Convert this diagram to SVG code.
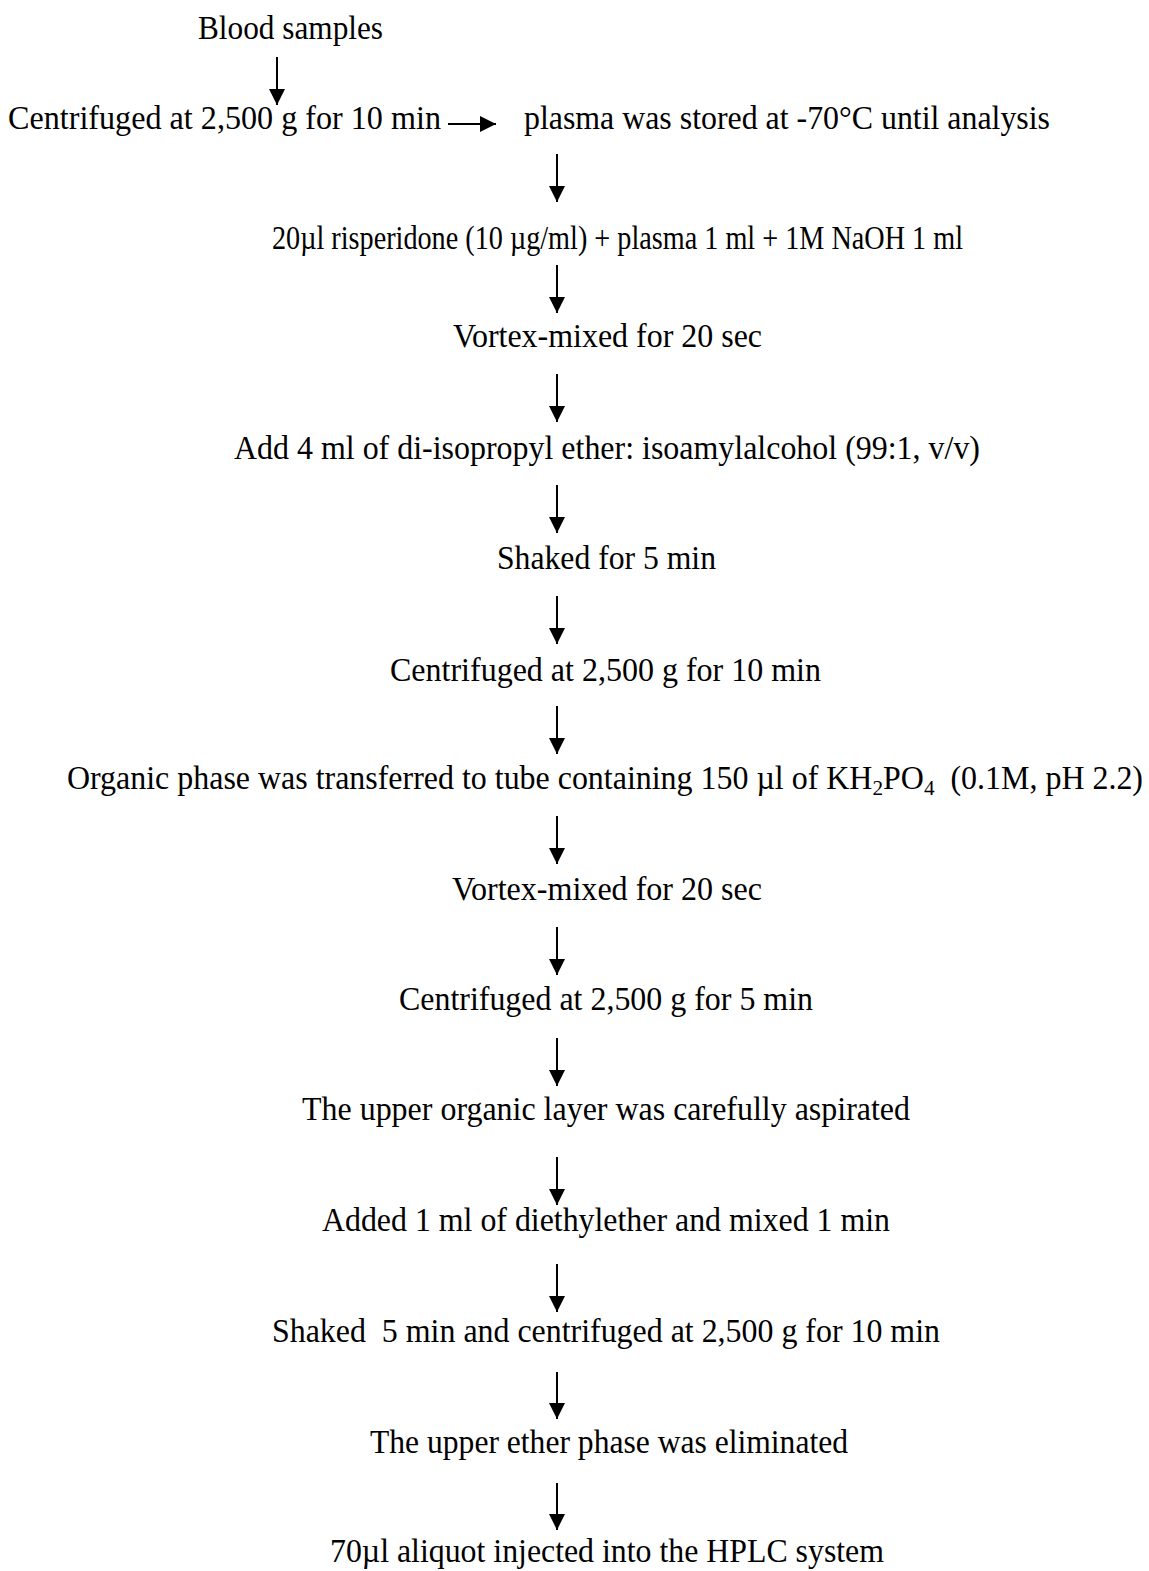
<svg xmlns="http://www.w3.org/2000/svg" width="1149" height="1571" viewBox="0 0 1149 1571">
<defs>
<marker id="ah" markerUnits="userSpaceOnUse" markerWidth="16" markerHeight="16" viewBox="0 0 16 16" refX="16" refY="8" orient="auto">
<path d="M0,0 L16,8 L0,16 z" fill="#000"/>
</marker>
<style>
text{font-family:"Liberation Serif","Times New Roman",serif;font-size:33px;fill:#000}
.a{stroke:#000;stroke-width:2;fill:none;marker-end:url(#ah)}
</style>
</defs>
<rect width="1149" height="1571" fill="#fff"/>
<g id="n1"><text x="198" y="39" textLength="185" lengthAdjust="spacingAndGlyphs">Blood samples</text></g>
<g id="n2"><text x="8" y="129" textLength="433" lengthAdjust="spacingAndGlyphs">Centrifuged at 2,500 g for 10 min</text></g>
<g id="n3"><text x="524" y="129" textLength="526" lengthAdjust="spacingAndGlyphs">plasma was stored at -70°C until analysis</text></g>
<g id="n4"><text x="272" y="249" textLength="691" lengthAdjust="spacingAndGlyphs">20µl risperidone (10 µg/ml) + plasma 1 ml + 1M NaOH 1 ml</text></g>
<g id="n5"><text x="453" y="347" textLength="309" lengthAdjust="spacingAndGlyphs">Vortex-mixed for 20 sec</text></g>
<g id="n6"><text x="234" y="459" textLength="746" lengthAdjust="spacingAndGlyphs">Add 4 ml of di-isopropyl ether: isoamylalcohol (99:1, v/v)</text></g>
<g id="n7"><text x="497" y="569" textLength="219" lengthAdjust="spacingAndGlyphs">Shaked for 5 min</text></g>
<g id="n8"><text x="390" y="681" textLength="431" lengthAdjust="spacingAndGlyphs">Centrifuged at 2,500 g for 10 min</text></g>
<g id="n9"><text x="67" y="789" textLength="1076" lengthAdjust="spacingAndGlyphs">Organic phase was transferred to tube containing 150 µl of KH<tspan font-size="22" dy="6">2</tspan><tspan dy="-6">PO</tspan><tspan font-size="22" dy="6">4</tspan><tspan dy="-6" xml:space="preserve">  (0.1M, pH 2.2)</tspan></text></g>
<g id="n10"><text x="452" y="900" textLength="310" lengthAdjust="spacingAndGlyphs">Vortex-mixed for 20 sec</text></g>
<g id="n11"><text x="399" y="1010" textLength="414" lengthAdjust="spacingAndGlyphs">Centrifuged at 2,500 g for 5 min</text></g>
<g id="n12"><text x="302" y="1120" textLength="608" lengthAdjust="spacingAndGlyphs">The upper organic layer was carefully aspirated</text></g>
<g id="n13"><text x="322" y="1231" textLength="568" lengthAdjust="spacingAndGlyphs">Added 1 ml of diethylether and mixed 1 min</text></g>
<g id="n14"><text x="272" y="1342" textLength="668" lengthAdjust="spacingAndGlyphs" xml:space="preserve">Shaked  5 min and centrifuged at 2,500 g for 10 min</text></g>
<g id="n15"><text x="370" y="1453" textLength="478" lengthAdjust="spacingAndGlyphs">The upper ether phase was eliminated</text></g>
<g id="n16"><text x="330" y="1562" textLength="554" lengthAdjust="spacingAndGlyphs">70µl aliquot injected into the HPLC system</text></g>
<g id="connectors">
<path class="a" d="M277,57 V105"/>
<path class="a" d="M448,124 H496"/>
<path class="a" d="M557,154 V202"/>
<path class="a" d="M557,265 V313"/>
<path class="a" d="M557,374 V422"/>
<path class="a" d="M557,485 V533"/>
<path class="a" d="M557,596 V644"/>
<path class="a" d="M557,706 V754"/>
<path class="a" d="M557,816 V864"/>
<path class="a" d="M557,927 V975"/>
<path class="a" d="M557,1038 V1086"/>
<path class="a" d="M557,1157 V1205"/>
<path class="a" d="M557,1264 V1312"/>
<path class="a" d="M557,1372 V1419"/>
<path class="a" d="M557,1483 V1530"/>
</g>
</svg>
